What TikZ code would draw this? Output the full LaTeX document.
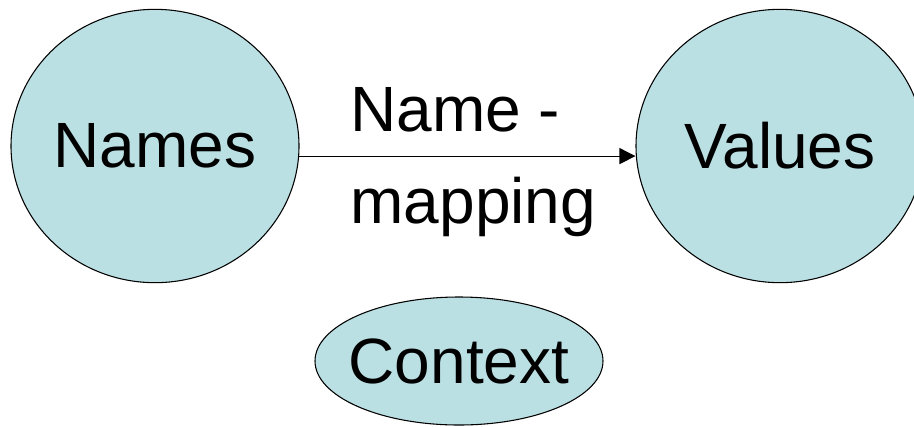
\documentclass[tikz,border=0pt]{standalone}
\usepackage{fontspec}
\setmainfont{Liberation Sans}
\usetikzlibrary{arrows.meta,positioning,shapes.geometric}
\definecolor{setfill}{RGB}{187,224,227}

\begin{document}
\begin{tikzpicture}[x=0.75pt,y=-0.75pt,on grid,
		every node/.style={font=\fontsize{48}{69}\selectfont},
		set/.style={ellipse,draw,fill=setfill,line width=0.8pt,inner sep=0pt,minimum width=216pt,minimum height=205pt}]
		\useasboundingbox (0,0) rectangle (914,426);
		\clip (0,0) rectangle (914,426);
		\node[set] (names) at (155,146) {Names};
		\node[set] (values) [right=468.75pt of names] {Values};
		\node[set,inner xsep=-10pt,minimum height=96pt] (context) [below right=161.25pt and 228pt of names] {Context};
		\draw[-{Triangle[length=12pt,width=12pt]},line width=0.8pt]
		(names.-4) -- node[align=left,xshift=4.5pt,yshift=-4.5pt] {Name -\\mapping} (names.-4 -| values.west);
\end{tikzpicture}
\end{document}
